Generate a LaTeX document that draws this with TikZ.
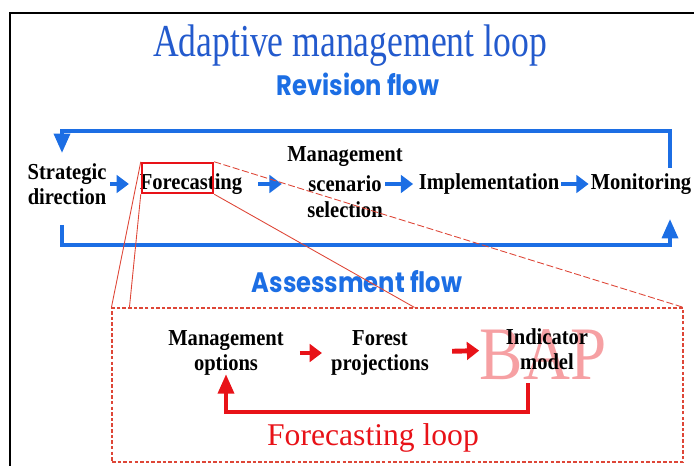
\documentclass[tikz,border=0pt]{standalone}
\usepackage{fontspec}
\setmainfont{Liberation Serif}
\newfontfamily\titlefont[FakeStretch=0.78]{Liberation Serif}
\newfontfamily\stagefont[FakeStretch=0.9]{Liberation Serif}
\newfontfamily\bapfont[FakeStretch=0.86]{Liberation Serif}
\newfontfamily\flowfont[FakeStretch=0.86]{Poppins}
\usetikzlibrary{arrows.meta,calc}

\definecolor{revblue}{RGB}{28,110,228}
\definecolor{titleblue}{RGB}{35,90,205}
\definecolor{loopred}{RGB}{232,18,24}
\definecolor{zoomred}{RGB}{222,70,55}

\tikzset{
  stage/.style={font=\stagefont\bfseries\fontsize{13}{14.5}\selectfont, align=center, inner sep=1pt},
  flowtitle/.style={font=\flowfont\bfseries\fontsize{16}{19}\selectfont, text=revblue},
  revarrow/.style={revblue, line width=2.8pt, -{Triangle[length=7pt,width=10pt]}},
  fcarrow/.style={loopred, line width=2.8pt, -{Triangle[length=7pt,width=10pt]}},
  revloop/.style={revblue, line width=2.2pt, -{Triangle[length=11pt,width=9pt]}},
  fcloop/.style={loopred, line width=2.2pt, -{Triangle[length=11pt,width=9pt]}},
  zoomline/.style={zoomred, line width=0.5pt}
}

\begin{document}
\begin{tikzpicture}[x=0.02cm, y=-0.02cm]
    \useasboundingbox (0,0) rectangle (694,466);
    % outer frame
    \draw[line width=1.2pt] (10,480) |- (710,13);

    \node[font=\titlefont\fontsize{26}{30}\selectfont, text=titleblue] (title) at (350,46) {Adaptive management loop};
    \node[flowtitle] (revision) at (358,84) {Revision flow};
    \node[flowtitle] (assessment) at (357,282) {Assessment flow};

    % main stages
    \node[stage] (strategic) at (67,184) {Strategic\\direction};
    \node[stage] (forecast) at (191,184) {Forecasting};
    \node[stage, label={[stage, label distance=3pt]above:Management},
      label={[stage, label distance=3pt]below:selection}] (scenario) at (345,184) {scenario};
    \node[stage] (implement) at (489,184) {Implementation};
    \node[stage] (monitor) at (641,184) {Monitoring};

    \draw[revarrow, shorten <=1pt, shorten >=5pt] (strategic) -- (forecast);
    \draw[revarrow, shorten <=8pt, shorten >=14pt] (forecast) -- (scenario);
    \draw[revarrow, shorten <=1pt, shorten >=2pt] (scenario) -- (implement);
    \draw[revarrow] (implement) -- (monitor);

    % revision and assessment loops
    \coordinate (revR) at (670,168);
    \coordinate (revL) at (62,153);
    \draw[revloop] (revR) -- ++(0,-37) -| (revL);
    \coordinate (assL) at (62,225);
    \coordinate (assR) at (670,219);
    \draw[revloop] (assL) -- ++(0,20) -| (assR);

    % zoom onto forecasting
    \node[draw=loopred, line width=1.4pt, minimum width=1.42cm, minimum height=0.6cm] (zoom) at (177.5,178) {};
    \node[draw=zoomred, line width=0.7pt, dash pattern=on 2pt off 1.2pt,
      minimum width=11.42cm, minimum height=3.08cm] (fcbox) at (397.5,385) {};
    \draw[zoomline] (zoom.north west) -- (fcbox.north west);
    \draw[zoomline] (zoom.south west) -- ($(fcbox.north west)+(18,0)$);
    \draw[zoomline] (zoom.south east) -- ($(fcbox.north west)+(303,0)$);
    \draw[zoomline, dash pattern=on 4pt off 1.5pt] (zoom.north east) -- (fcbox.north east);

    % forecasting loop
    \node[font=\bapfont\fontsize{43}{43}\selectfont, text=loopred!40, inner sep=0pt] (bap) at (543,355) {BAP};
    \node[stage] (options) at (226,353) {Management\\options};
    \node[stage] (projection) at (380,353) {Forest\\projections};
    \node[stage] (indicator) at (547,349) {Indicator\\model};

    \draw[fcarrow, shorten <=8pt, shorten >=4pt] (options) -- (projection);
    \draw[fcarrow, shorten <=12pt, shorten >=14pt] (projection) -- (indicator);
    \coordinate (loopR) at (528,383);
    \draw[fcloop, shorten >=-2pt] (loopR) -- ++(0,29) -| (options.south);

    \node[font=\fontsize{18}{20}\selectfont, text=loopred] (fcloopname) at (373,438) {Forecasting loop};

\end{tikzpicture}
\end{document}
